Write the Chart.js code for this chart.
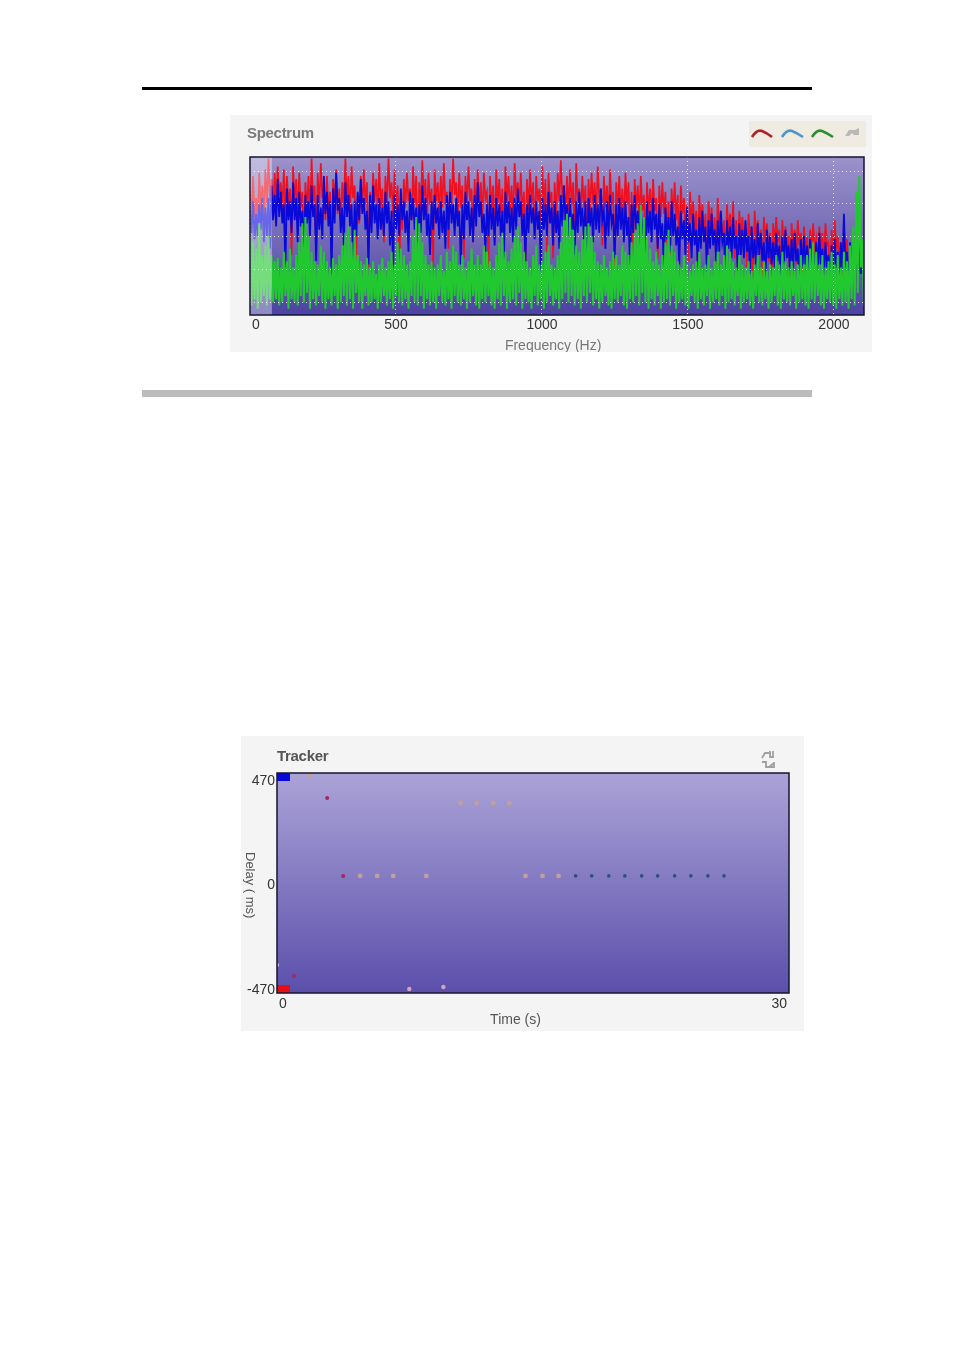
<!DOCTYPE html>
<html>
<head>
<meta charset="utf-8">
<title>Spectrum and Tracker</title>
<script src="https://cdn.jsdelivr.net/npm/chart.js@4"></script>
<style>
  html, body { margin: 0; padding: 0; background: #fff; }
  body { position: relative; width: 954px; height: 1348px; overflow: hidden; font-family: "Liberation Sans", Arial, sans-serif; }
  .rule { position: absolute; left: 142px; width: 670px; }
  .panel { position: absolute; background: #f4f4f4; }
  .panel canvas { position: absolute; left: 0; top: 0; filter: blur(0.45px); }
  .head { position: absolute; font-weight: bold; font-size: 15px; letter-spacing: -0.3px; }
  .vlabel { position: absolute; writing-mode: vertical-rl; font-size: 13px; color: #555; }
  svg { position: absolute; }
</style>
</head>
<body>
<div class="rule" style="top:87px;height:3px;background:#000"></div>
<div class="rule" style="top:390px;height:7px;background:#bcbcbc"></div>

<div class="panel" style="left:230px;top:115px;width:642px;height:237px">
  <canvas id="spectrumChart" width="642" height="237"></canvas>
  <div class="head" style="left:17px;top:9px;color:#7a7a7a">Spectrum</div>
  <svg style="left:519px;top:6px" width="117" height="26">
    <rect width="117" height="26" fill="#efebe0"/>
    <path d="M3,16 Q8,8 13,10 Q18,12 23,16" fill="none" stroke="#b02028" stroke-width="2.6"/>
    <path d="M33,16 Q38,8 43,10 Q48,12 54,16" fill="none" stroke="#4f94cc" stroke-width="2.6"/>
    <path d="M63,16 Q68,8 73,10 Q78,12 84,16" fill="none" stroke="#2c8c30" stroke-width="2.6"/>
    <path d="M96,15 l4,-6 h6 l4,-2 v7 h-5 l-2,-2 l-3,3 z" fill="#b8b8b8"/>
  </svg>
</div>

<div class="panel" style="left:241px;top:736px;width:563px;height:295px">
  <canvas id="trackerChart" width="563" height="295"></canvas>
  <div class="head" style="left:36px;top:11px;color:#555">Tracker</div>
  <div class="vlabel" style="left:2px;top:116px">Delay ( ms)</div>
  <svg style="left:519px;top:14px" width="18" height="20">
    <path d="M2,8 l3,-5 h6 M10,1 v6 h3 v-6 M14,12 v5 h-4 M2,12 h4 v5 h3 l5,-4" fill="none" stroke="#a0a0a0" stroke-width="1.8"/>
  </svg>
</div>

<script>
// spectrum, one value per bin (0 = bottom of plot, 100 = top)
const binHz = 5.27;
const redLevels = [
  78,60,88,62,74,58,90,66,82,60, 92,70,99,72,86,64,90,70,94,76,
  84,66,92,60,88,70,80,38,94,72, 86,62,90,68,78,44,84,66,88,60,
  99,72,82,36,90,68,96,74,84,60, 88,66,78,40,86,70,92,64,80,58,
  84,68,99,70,88,62,94,74,82,34, 76,58,88,66,92,70,84,30,78,60,
  90,72,86,64,96,68,80,46,88,70, 99,74,84,62,92,66,82,24,76,54,
  86,68,90,72,80,60,94,70,88,36, 84,66,98,74,86,58,90,70,80,30,
  92,72,84,64,88,68,96,70,78,42, 86,66,99,76,84,62,90,68,82,36,
  88,70,94,72,80,46,86,64,92,70, 84,60,90,74,78,30,88,66,82,48,
  92,70,86,64,80,38,94,72,88,66, 82,60,96,74,84,68,90,62,78,34,
  86,66,92,70,84,50,88,72,80,60, 94,68,86,40,90,70,78,36,84,62,
  90,72,98,74,82,60,88,66,92,70, 84,46,96,72,80,62,88,68,82,32,
  86,66,90,70,84,62,94,74,80,44, 88,68,82,60,92,70,78,28,84,66,
  88,64,80,58,90,70,84,48,78,38, 86,68,82,60,88,66,76,34,84,64,
  80,60,86,66,74,36,82,62,84,64, 78,44,72,38,80,62,84,60,76,40,
  82,64,74,52,70,34,78,58,72,50, 66,30,76,56,70,50,64,28,72,54,
  68,48,62,32,74,54,66,46,60,26, 70,52,64,44,72,36,60,30,66,48,
  62,46,58,30,64,48,56,24,66,46, 60,42,54,20,62,46,58,34,52,18,
  58,44,62,46,54,26,60,42,56,40, 50,22,58,44,54,32,60,44,52,26,
  56,42,50,22,54,40,58,42,48,24, 56,40,52,30,58,44,46,20,54,38,
  60,42,50,26,46,24,54,36,48,10, 44,24,52,34,56,18,48,26,44,30
];
const blueLevels = [
  66,52,72,48,64,50,70,54,74,46, 68,50,74,42,82,60,76,56,86,62,
  78,58,70,30,80,60,72,52,84,60, 74,46,78,56,66,38,76,58,72,50,
  82,62,70,34,76,54,68,48,88,64, 78,56,72,26,80,58,90,66,74,52,
  68,44,84,62,76,56,70,36,72,50, 78,60,86,64,74,54,66,32,76,52,
  82,58,70,48,74,54,68,50,78,58, 72,44,66,30,76,54,70,50,80,60,
  72,52,66,40,78,60,74,54,68,46, 70,52,82,60,74,50,64,38,72,54,
  76,58,68,48,72,52,66,42,76,54, 78,58,70,50,74,56,66,32,70,48,
  78,60,72,50,68,46,76,56,84,62, 72,52,64,40,70,50,76,54,68,44,
  74,56,70,50,66,36,78,58,72,52, 68,46,74,54,80,62,72,50,64,34,
  70,52,76,58,68,48,72,54,66,28, 74,54,70,50,78,58,68,44,72,52,
  66,42,76,56,82,60,70,50,74,54, 64,38,72,52,78,56,68,48,72,30,
  74,56,68,46,76,54,70,52,80,60, 66,42,72,50,76,58,64,36,70,50,
  74,54,68,46,72,50,62,30,70,52, 76,54,66,44,70,48,60,34,72,52,
  66,46,74,54,64,42,70,48,58,28, 68,48,62,40,72,50,64,44,56,32,
  66,48,60,38,68,46,58,36,64,44, 54,30,62,42,66,46,56,26,60,42,
  64,44,54,34,60,40,66,46,52,24, 60,42,56,36,62,42,50,28,58,38,
  54,36,60,40,50,26,56,36,48,30, 58,38,52,34,46,22,54,36,50,32,
  46,30,52,34,44,24,50,32,54,36, 44,28,48,30,52,34,42,20,48,30,
  50,32,44,26,48,30,40,22,46,28, 52,32,42,26,46,30,38,18,44,28,
  48,30,40,22,46,28,64,30,40,14, 46,26,42,28,50,20,44,26,40,26
];
const greenLevels = [
  52,6,46,10,42,4,58,8,38,12, 44,6,50,10,38,8,34,10,36,6,
  30,8,40,12,34,4,42,10,30,8, 38,6,46,12,58,8,62,14,50,4,
  40,10,34,6,32,12,44,8,40,4, 34,10,30,6,36,12,32,4,38,8,
  44,12,52,6,56,10,46,4,54,14, 38,8,34,4,32,12,36,6,30,8,
  34,10,26,4,32,8,36,12,30,6, 34,10,40,4,32,12,46,8,42,6,
  38,10,32,4,34,12,50,8,62,6, 58,12,46,4,38,10,32,6,34,8,
  30,4,32,12,38,8,28,6,40,10, 34,4,44,12,40,8,32,6,38,10,
  30,4,34,8,42,12,32,6,38,4, 32,10,44,8,40,12,34,6,30,4,
  38,10,46,6,52,12,40,4,34,8, 42,10,50,6,56,14,46,4,40,10,
  34,8,30,4,38,12,44,6,32,10, 34,4,40,8,44,12,32,6,30,10,
  38,4,46,10,60,14,64,8,62,12, 54,6,44,10,40,4,48,12,56,8,
  58,14,50,6,40,10,34,4,32,8, 38,12,30,6,34,4,40,10,38,8,
  32,12,44,6,40,4,38,10,46,8, 52,12,58,6,70,14,62,8,50,4,
  42,10,34,6,40,12,32,4,38,8, 46,10,54,6,44,12,40,4,34,8,
  30,10,38,6,32,4,28,12,32,8, 34,4,40,10,30,6,32,12,38,4,
  30,8,34,10,40,6,32,12,38,4, 44,8,40,10,34,6,30,12,38,4,
  32,8,30,10,34,6,28,4,32,12, 38,8,30,6,34,10,28,4,32,8,
  30,12,38,6,32,4,40,10,34,8, 30,6,34,12,28,4,32,8,38,10,
  32,6,38,4,42,10,46,8,40,12, 32,6,38,4,30,10,34,8,40,6,
  32,4,38,10,30,6,40,8,34,4, 44,10,56,6,78,14,88,30,48,6
];
const gridHz = [0, 500, 1000, 1500, 2000];
const gridHzLabels = ['\u00A0\u00A0\u00A00', '500', '1000', '1500', '2000'];
const gridLevels = [8.2, 29.1, 49.4, 70.3, 90.8];

// tracker, [time s, delay ms]
const trackerTicksX = [0, 30];
const trackerTicksXLabels = ['\u00A0\u00A0\u00A00', '30\u00A0\u00A0\u00A0\u00A0\u00A0'];
const trackerTicksY = [-470, 0, 470];
const topMarker = [[0, 488], [0.76, 488]];
const bottomMarker = [[0, -466], [0.76, -466]];
const redPoints = [[2.94, 394], [3.88, 43], [1, -407]];
const tanPoints = [[1.94, 493], [10.75, 371], [11.69, 371], [12.68, 371], [13.62, 371],
  [4.87, 43], [5.87, 43], [6.81, 43], [8.75, 43], [14.56, 43], [15.56, 43], [16.5, 43]];
const pinkPoints = [[0, -358], [7.75, -466], [9.75, -457]];
const tealPoints = [[17.5, 43], [18.44, 43], [19.44, 43], [20.38, 43], [21.37, 43],
  [22.3, 43], [23.3, 43], [24.25, 43], [25.25, 43], [26.19, 43]];

const xy = pts => pts.map(p => ({ x: p[0], y: p[1] }));
const spectrumXY = levels => levels.map((v, i) => ({ x: i * binHz, y: v }));

// gradient plot background and frame
function plotFrame(top, bottom, bandHz) {
  return {
    id: 'plotFrame',
    beforeDatasetsDraw(c) {
      const a = c.chartArea, ctx = c.ctx;
      const g = ctx.createLinearGradient(0, a.top, 0, a.bottom);
      g.addColorStop(0, top);
      g.addColorStop(1, bottom);
      ctx.save();
      ctx.fillStyle = g;
      ctx.fillRect(a.left, a.top, a.width, a.height);
      ctx.restore();
    },
    afterDatasetsDraw(c) {
      const a = c.chartArea, ctx = c.ctx;
      ctx.save();
      if (bandHz) {
        ctx.fillStyle = 'rgba(255,255,255,0.38)';
        ctx.fillRect(a.left, a.top, c.scales.x.getPixelForValue(bandHz) - a.left, a.height);
      }
      ctx.restore();
    },
    afterDraw(c) {
      const a = c.chartArea, ctx = c.ctx;
      ctx.save();
      ctx.strokeStyle = '#14142e';
      ctx.lineWidth = 1.5;
      ctx.strokeRect(a.left, a.top, a.width, a.height);
      ctx.restore();
    }
  };
}

const tickFont = { family: '"Liberation Sans", Arial, sans-serif', size: 14 };
const titleFont = { family: '"Liberation Sans", Arial, sans-serif', size: 14 };

function specLine(levels, color, w) {
  return { type: 'line', data: spectrumXY(levels), borderColor: color, borderWidth: w, pointRadius: 0, tension: 0 };
}

new Chart(document.getElementById('spectrumChart'), {
  type: 'line',
  data: {
    // first dataset ends up on top
    datasets: [
      specLine(greenLevels, '#22c830', 2),
      specLine(blueLevels, '#0a0ad8', 1.8),
      specLine(redLevels, '#f01020', 1.7)
    ]
  },
  options: {
    responsive: false,
    animation: false,
    layout: { padding: { left: 20, top: 42, right: 8, bottom: 0 } },
    plugins: { legend: { display: false }, tooltip: { enabled: false } },
    scales: {
      x: {
        type: 'linear', min: 0, max: 2103,
        afterBuildTicks: s => { s.ticks = gridHz.map(v => ({ value: v })); },
        afterFit: s => { s.height = 37; s.paddingLeft = 0; s.paddingRight = 0; },
        ticks: { autoSkip: false, maxRotation: 0, padding: 2, color: '#333', font: tickFont,
          callback: (v) => gridHzLabels[gridHz.indexOf(v)] },
        grid: { color: 'rgba(255,255,255,0.8)', drawTicks: false, z: 1 },
        border: { display: false, dash: [1, 3] },
        title: { display: true, text: 'Frequency (Hz)\u00A0\u00A0', color: '#777', font: titleFont, padding: { top: 0, bottom: -3 } }
      },
      y: {
        min: 0, max: 100,
        afterBuildTicks: s => { s.ticks = gridLevels.map(v => ({ value: v })); },
        afterFit: s => { s.width = 0; },
        ticks: { display: false },
        grid: { color: 'rgba(255,255,255,0.8)', drawTicks: false, z: 1 },
        border: { display: false, dash: [1, 3] }
      }
    }
  },
  plugins: [plotFrame('#9c93cb', '#4c42a2', 75)]
});

function dots(pts, color, r) {
  return { type: 'scatter', data: xy(pts), backgroundColor: color, borderWidth: 0, pointRadius: r };
}
function marker(pts, color) {
  return { type: 'line', data: xy(pts), borderColor: color, borderWidth: 8, borderCapStyle: 'butt', pointRadius: 0, clip: false };
}

new Chart(document.getElementById('trackerChart'), {
  type: 'scatter',
  data: {
    datasets: [
      marker(topMarker, '#0808d8'),
      marker(bottomMarker, '#e80c14'),
      dots(redPoints, '#a02a5c', 2),
      dots(tanPoints, '#c4a09c', 2.4),
      dots(pinkPoints, '#d0a4c4', 2.2),
      dots(tealPoints, '#2c5078', 1.8)
    ]
  },
  options: {
    responsive: false,
    animation: false,
    layout: { padding: { left: 0, top: 37, right: 15, bottom: 0 } },
    plugins: { legend: { display: false }, tooltip: { enabled: false } },
    scales: {
      x: {
        type: 'linear', min: 0, max: 30,
        afterBuildTicks: s => { s.ticks = trackerTicksX.map(v => ({ value: v })); },
        afterFit: s => { s.height = 38; s.paddingLeft = 0; s.paddingRight = 0; },
        ticks: { autoSkip: false, maxRotation: 0, padding: 3, color: '#333', font: tickFont,
          callback: (v) => trackerTicksXLabels[trackerTicksX.indexOf(v)] },
        grid: { display: false, drawTicks: false },
        border: { display: false },
        title: { display: true, text: 'Time (s)\u00A0\u00A0\u00A0\u00A0\u00A0\u00A0\u00A0\u00A0\u00A0', color: '#555', font: titleFont, padding: { top: 0, bottom: 2 } }
      },
      y: {
        type: 'linear', min: -484, max: 506,
        afterBuildTicks: s => { s.ticks = trackerTicksY.map(v => ({ value: v })); },
        afterFit: s => { s.width = 36; },
        ticks: { autoSkip: false, padding: 2, color: '#333', font: tickFont },
        grid: { display: false, drawTicks: false },
        border: { display: false }
      }
    }
  },
  plugins: [plotFrame('#aba3d7', '#5b4fab', 0)]
});
</script>
</body>
</html>
